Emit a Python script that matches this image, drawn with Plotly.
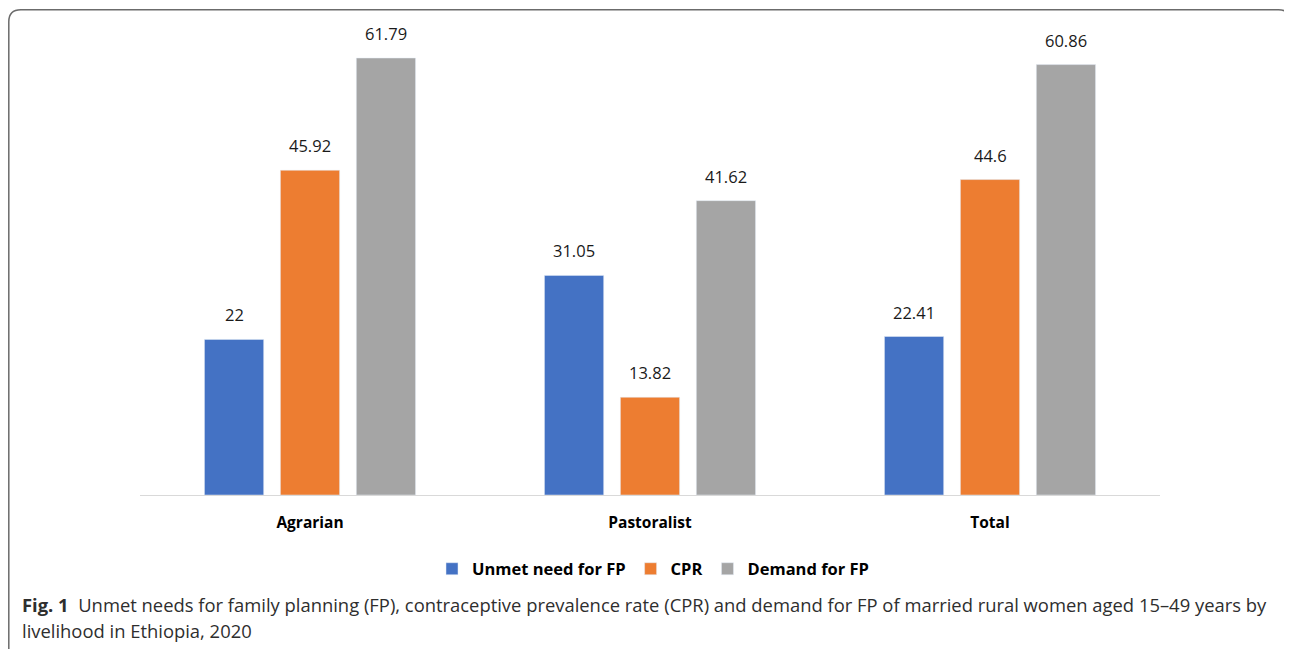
import plotly.graph_objects as go

categories = ["Agrarian", "Pastoralist", "Total"]
series_names = ["Unmet need for FP", "CPR", "Demand for FP"]
unmet = [22, 31.05, 22.41]
cpr = [45.92, 13.82, 44.6]
demand = [61.79, 41.62, 60.86]
labels_unmet = ["22", "31.05", "22.41"]
labels_cpr = ["45.92", "13.82", "44.6"]
labels_demand = ["61.79", "41.62", "60.86"]
colors = ["#4472C4", "#ED7D31", "#A5A5A5"]

OFF = 8  # page body margin
W, H = 1284, 641
L, R, T, B = 140 - OFF, 1160 - OFF, 35 - OFF, 495 - OFF
pw, ph = R - L, B - T
scale = (495 - 58) / 61.79
ytop = ph / scale
slot = 76  # px between bar centres within a group

def px(x):
    return (x - OFF - L) / pw

def py(y):
    return (B - (y - OFF)) / ph

fig = go.Figure()
all_vals = [unmet, cpr, demand]
all_labs = [labels_unmet, labels_cpr, labels_demand]
for i, (name, vals, labs, col) in enumerate(zip(series_names, all_vals, all_labs, colors)):
    fig.add_trace(go.Bar(x=categories, y=vals, name=name, marker_color=col))
    for c, v, t in zip(categories, vals, labs):
        fig.add_annotation(x=c, y=v, xref="x", yref="y", text=t, showarrow=False,
                           xanchor="center", yanchor="bottom", yshift=11,
                           xshift=(i - 1) * slot,
                           font=dict(family="Open Sans", size=16.5, color="#1a1a1a"))

# rounded frame
x0, x1, y0, y1, r = 8.8, 1290.5, 9.8, 670, 12
path = (f"M {px(x0)},{py(y0 + r)} Q {px(x0)},{py(y0)} {px(x0 + r)},{py(y0)} "
        f"L {px(x1 - r)},{py(y0)} Q {px(x1)},{py(y0)} {px(x1)},{py(y0 + r)} "
        f"L {px(x1)},{py(y1)} L {px(x0)},{py(y1)} Z")
fig.add_shape(type="path", path=path, xref="paper", yref="paper",
              line=dict(color="#6b6b6b", width=1.5), fillcolor="rgba(0,0,0,0)", layer="below")

cap_font = dict(family="Open Sans", size=18.4, color="#2e2e2e")
fig.add_annotation(x=px(20), y=py(604), xref="paper", yref="paper", xanchor="left", yanchor="middle",
                   showarrow=False, align="left",
                   text="<b>Fig. 1</b>  Unmet needs for family planning (FP), contraceptive prevalence rate (CPR) and demand for FP of married rural women aged 15–49 years by",
                   font=cap_font)
fig.add_annotation(x=px(20), y=py(630), xref="paper", yref="paper", xanchor="left", yanchor="middle",
                   showarrow=False, align="left",
                   text="livelihood in Ethiopia, 2020",
                   font=cap_font)

fig.update_layout(
    width=W, height=H,
    margin=dict(l=L, r=W - R, t=T, b=H - B, pad=0),
    paper_bgcolor="white", plot_bgcolor="white",
    barmode="group", bargap=0.33, bargroupgap=0.22,
    showlegend=True,
    legend=dict(orientation="h", x=px(653), xanchor="center", y=py(569), yanchor="middle",
                font=dict(family="Open Sans", size=16.5, color="black", weight="bold"),
                itemwidth=30, traceorder="normal"),
    xaxis=dict(showline=True, linecolor="#D9D9D9", linewidth=1, ticks="outside",
               ticklen=13, tickcolor="rgba(0,0,0,0)",
               tickfont=dict(family="Open Sans", size=15.5, color="black"),
               tickvals=categories, ticktext=[f"<b>{c}</b>" for c in categories]),
    yaxis=dict(range=[0, ytop], visible=False, showgrid=False),
)
fig.write_html("out.html")
